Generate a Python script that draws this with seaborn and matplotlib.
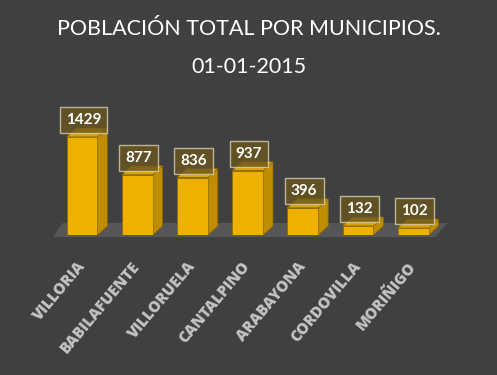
import numpy as np
import matplotlib
matplotlib.use("Agg")
import matplotlib.pyplot as plt
from matplotlib.patches import Polygon
import seaborn as sns

municipios = ["VILLORIA", "BABILAFUENTE", "VILLORUELA", "CANTALPINO",
              "ARABAYONA", "CORDOVILLA", "MORIÑIGO"]
poblacion = [1429, 877, 836, 937, 396, 132, 102]

sns.set_theme(style="dark")
plt.rcParams['font.family'] = ['Lato', 'DejaVu Sans']

bg = '#404040'
front = '#EFB100'
side = '#C08C00'
top = '#D8A200'
edge = '#8a6a00'

fig = plt.figure(figsize=(4.97, 3.75), dpi=100, facecolor=bg)
# axes placed so the bar base sits ~235px from the top
ax = fig.add_axes([54.4 / 497, 140 / 375, 386.4 / 497, 135 / 375])
ax.set_facecolor(bg)

sns.barplot(x=municipios, y=poblacion, color=front, width=0.56,
            saturation=1, edgecolor=edge, linewidth=0.5, ax=ax, zorder=3)
ax.set_xlim(-0.5, 6.5)
ax.set_ylim(0, 1968)

# depth of the pseudo-3d boxes in data units
dx, dy = 0.18, 130

# floor
floor = Polygon([(-0.53, -30), (6.4, -30), (6.4 + dx + 0.04, 175), (-0.53 + dx, 175)],
                closed=True, facecolor='#565656', edgecolor='none', zorder=1, clip_on=False)
ax.add_patch(floor)

for p, val in zip(list(ax.patches)[:len(poblacion)], poblacion):
    x0 = p.get_x()
    w = p.get_width()
    h = p.get_height()
    x1 = x0 + w
    ax.add_patch(Polygon([(x1, 0), (x1 + dx, dy), (x1 + dx, h + dy), (x1, h)],
                         facecolor=side, edgecolor=edge, linewidth=0.5, zorder=2, clip_on=False))
    ax.add_patch(Polygon([(x0, h), (x0 + dx, h + dy), (x1 + dx, h + dy), (x1, h)],
                         facecolor=top, edgecolor=edge, linewidth=0.5, zorder=2, clip_on=False))
    ax.annotate(str(val), (x0 + w / 2, h), xytext=(1, 12), textcoords='offset points',
                ha='center', va='center', color='white', fontsize=11, fontweight='bold',
                zorder=5, annotation_clip=False,
                bbox=dict(boxstyle='square,pad=0.4', facecolor='#6a5720', alpha=0.8,
                          edgecolor='#d8d0b0', linewidth=1))

for s in ax.spines.values():
    s.set_visible(False)
ax.set_yticks([])
ax.set_xlabel('')
ax.set_ylabel('')
ax.grid(False)
ax.tick_params(axis='x', length=0, pad=21, colors='#c4c4c4')
ax.set_xticks(range(len(municipios)))
ax.set_xticklabels(municipios, rotation=50, ha='right', va='center',
                   rotation_mode='anchor', fontweight='heavy', fontsize=11,
                   family=['Open Sans', 'DejaVu Sans'])

fig.text(0.5, 1 - 29 / 375, 'POBLACIÓN TOTAL POR MUNICIPIOS.', ha='center', va='center',
         color='white', fontsize=15.5)
fig.text(0.5, 1 - 67 / 375, '01-01-2015', ha='center', va='center',
         color='white', fontsize=15.5)

fig.savefig('out.png', dpi=100, facecolor=bg)
